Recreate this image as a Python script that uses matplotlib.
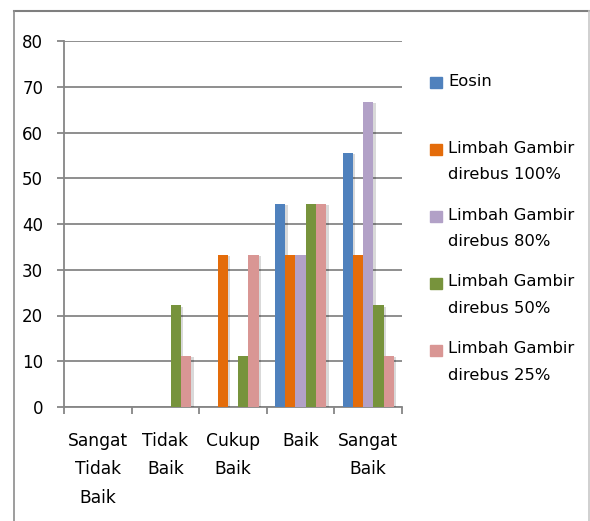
import numpy as np
import matplotlib
matplotlib.use("Agg")
import matplotlib.pyplot as plt
import matplotlib.patheffects as pe
from matplotlib.patches import Rectangle
from matplotlib.lines import Line2D

plt.rcParams['font.family'] = ['DejaVu Sans']

categories = ["Sangat\nTidak\nBaik", "Tidak\nBaik", "Cukup\nBaik", "Baik", "Sangat\nBaik"]
series = ["Eosin", "Limbah Gambir\ndirebus 100%", "Limbah Gambir\ndirebus 80%",
          "Limbah Gambir\ndirebus 50%", "Limbah Gambir\ndirebus 25%"]
eosin = [0, 0, 0, 44.4, 55.6]
rebus100 = [0, 0, 33.3, 33.3, 33.3]
rebus80 = [0, 0, 0, 33.3, 66.7]
rebus50 = [0, 22.2, 11.1, 44.4, 22.2]
rebus25 = [0, 11.1, 33.3, 44.4, 11.1]
colors = ["#4F81BD", "#E46C0A", "#B2A1C7", "#77933C", "#D99694"]

values = [eosin, rebus100, rebus80, rebus50, rebus25]

fig = plt.figure(figsize=(5.9, 5.21), dpi=100)
ax = fig.add_axes([64 / 590, 1 - 407 / 521, 338 / 590, 366 / 521])

x = np.arange(len(categories))
w = 0.152
shadow = [pe.SimplePatchShadow(offset=(1.8, -0.8), shadow_rgbFace='k', alpha=0.15), pe.Normal()]
for i, (vals, c) in enumerate(zip(values, colors)):
    bars = ax.bar(x + (i - 2) * w, vals, w, color=c, zorder=3)
    for b in bars:
        if b.get_height() > 0:
            b.set_path_effects(shadow)

ax.set_xlim(-0.5, len(categories) - 0.5)
ax.set_ylim(0, 80)
ax.set_yticks(np.arange(0, 81, 10))
ax.yaxis.grid(True, color="#868686", lw=1.3, zorder=0)
ax.set_axisbelow(True)

for s in ["top", "right"]:
    ax.spines[s].set_visible(False)
for s in ["left", "bottom"]:
    ax.spines[s].set_color("#868686")
    ax.spines[s].set_linewidth(1.3)

ax.set_xticks(x)
ax.set_xticklabels(categories, fontsize=12.3, linespacing=1.75)
ax.set_xticks(np.arange(-0.5, len(categories), 1), minor=True)
ax.tick_params(axis='x', which='major', length=0, pad=18)
ax.tick_params(axis='x', which='minor', length=5, color="#868686", width=1.3)
ax.tick_params(axis='y', length=5, color="#868686", width=1.3, labelsize=12, pad=10)

# legend on the right
for i, (lab, c) in enumerate(zip(series, colors)):
    yc = 83 + i * 66.8
    fig.patches.append(Rectangle((430 / 590, 1 - (yc + 5.5) / 521), 12 / 590, 11 / 521,
                                 transform=fig.transFigure, color=c, figure=fig))
    fig.text(448 / 590, 1 - (yc - 9) / 521, lab, fontsize=11.8, va='top', ha='left',
             linespacing=1.95)

# chart border
bc = "#8c8c8c"
fig.add_artist(Line2D([14 / 590, 589 / 590], [1 - 11 / 521] * 2, color="#7f7f7f", lw=1.5,
                      transform=fig.transFigure))
fig.add_artist(Line2D([14 / 590] * 2, [0, 1 - 11 / 521], color=bc, lw=1.2,
                      transform=fig.transFigure))
fig.add_artist(Line2D([589 / 590] * 2, [0, 1 - 11 / 521], color="#c8c8c8", lw=1.2,
                      transform=fig.transFigure))

fig.savefig("out.png", dpi=100)
